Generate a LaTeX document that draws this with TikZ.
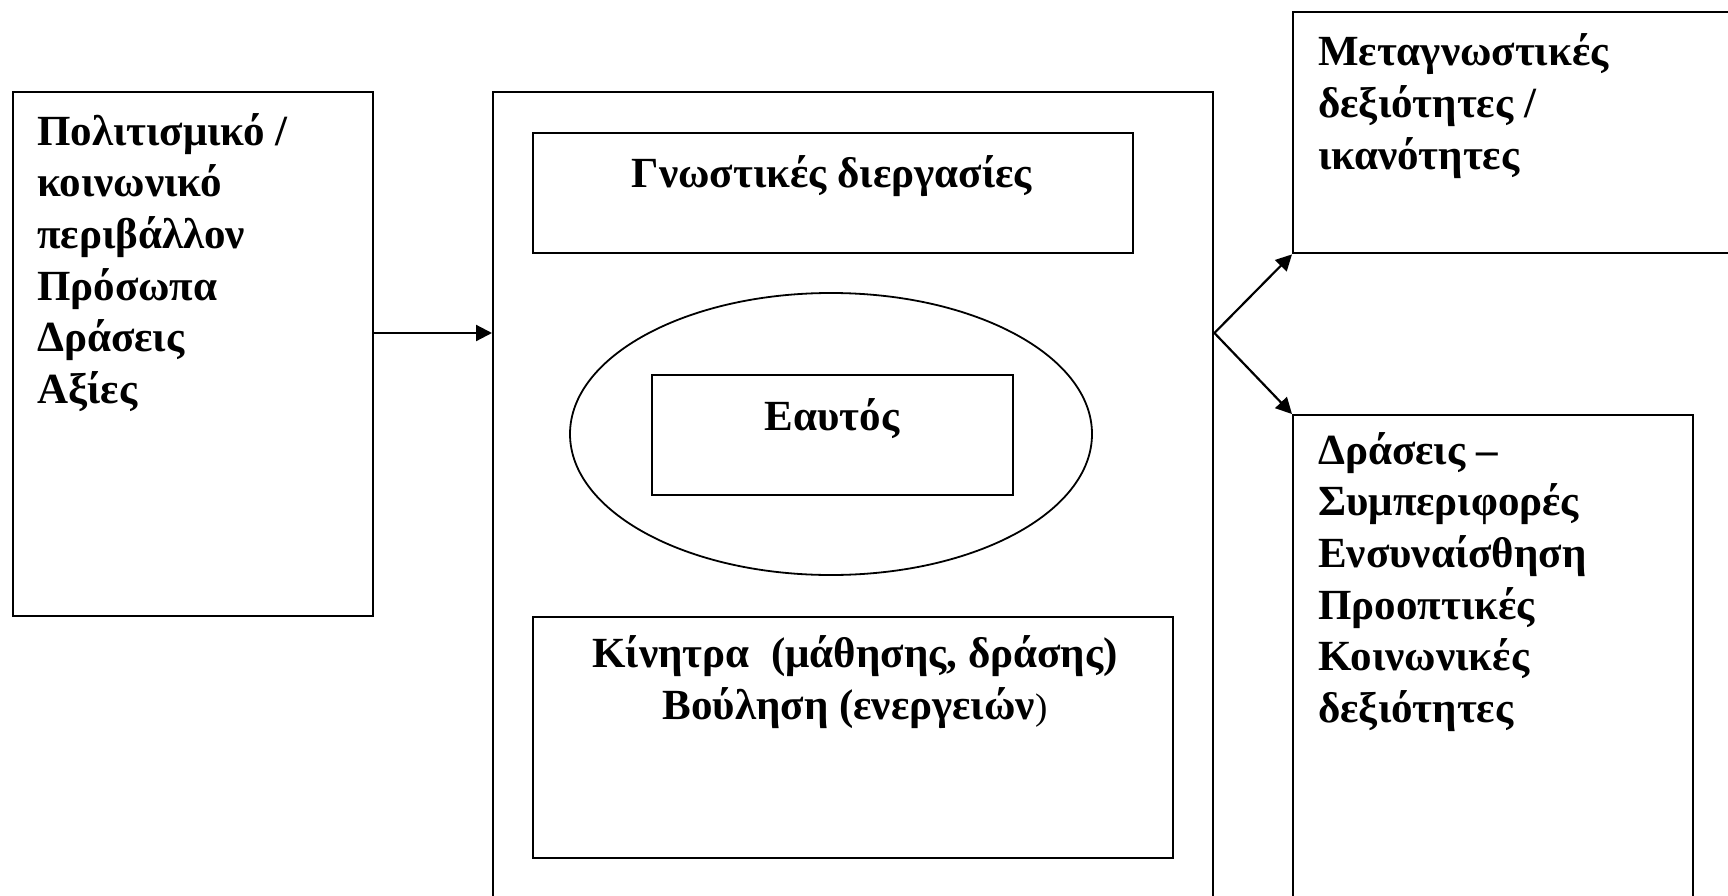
\documentclass[tikz,border=0pt]{standalone}
\usepackage{fontspec}
\setmainfont{Liberation Serif}
\usetikzlibrary{arrows.meta,shapes.geometric}
\tikzset{
  box/.style={draw, line width=2.4pt, rectangle, inner sep=0pt, anchor=north west},
  oval/.style={draw, line width=1.8pt, ellipse, inner sep=0pt},
  txt/.style={inner sep=0pt, font=\fontsize{43}{51.7}\selectfont\bfseries, align=left, anchor=base west},
  ctxt/.style={inner sep=0pt, font=\fontsize{43}{51.7}\selectfont\bfseries, align=center, anchor=base},
  arr/.style={line width=2.2pt, -{Triangle[length=16pt,width=16pt]}},
}
\begin{document}
\begin{tikzpicture}[x=1pt,y=-1pt]
\useasboundingbox (0,0) rectangle (1728,896);
\fill[white] (0,0) rectangle (1728,896);
% boxes
\node[box, minimum width=360pt, minimum height=524pt] (L) at (12,91) {};
\node[box, minimum width=720pt, minimum height=830pt] (B) at (492,91) {};
\node[box, minimum width=600pt, minimum height=120pt] (G) at (532,132) {};
\node[oval, minimum width=522pt, minimum height=282pt] (E) at (831,434) {};
\node[box, minimum width=361pt, minimum height=120pt] (S) at (651,374) {};
\node[box, minimum width=640pt, minimum height=241pt] (K) at (532,616) {};
\node[box, minimum width=500pt, minimum height=241pt] (M) at (1292,11) {};
\node[box, minimum width=400pt, minimum height=520pt] (D) at (1292,414) {};
% texts (base anchor = baseline of the last line)
\node[txt] (Lt) at (37,403.5) {Πολιτισμικό /\\κοινωνικό\\περιβάλλον\\Πρόσωπα\\Δράσεις\\Αξίες};
\node[ctxt] (Gt) at (832,187) {Γνωστικές διεργασίες};
\node[ctxt] (St) at (832,430) {Εαυτός};
\node[ctxt] (Kt) at (855,719) {Κίνητρα \ (μάθησης, δράσης)\\Βούληση (ενεργειών{\mdseries\fontsize{37}{44}\selectfont)}};
\node[txt] (Mt) at (1318,169.4) {Μεταγνωστικές\\δεξιότητες /\\ικανότητες};
\node[txt] (Dt) at (1318,722.5) {Δράσεις –\\Συμπεριφορές\\Ενσυναίσθηση\\Προοπτικές\\Κοινωνικές\\δεξιότητες};
% connectors
\coordinate (aY) at (0,333);
\coordinate (fork) at (B.east |- aY);
\draw[arr] (L.east |- aY) -- (B.west |- aY);
\draw[arr] (fork) -- (M.south west);
\draw[arr] (fork) -- (D.north west);
\end{tikzpicture}
\end{document}
